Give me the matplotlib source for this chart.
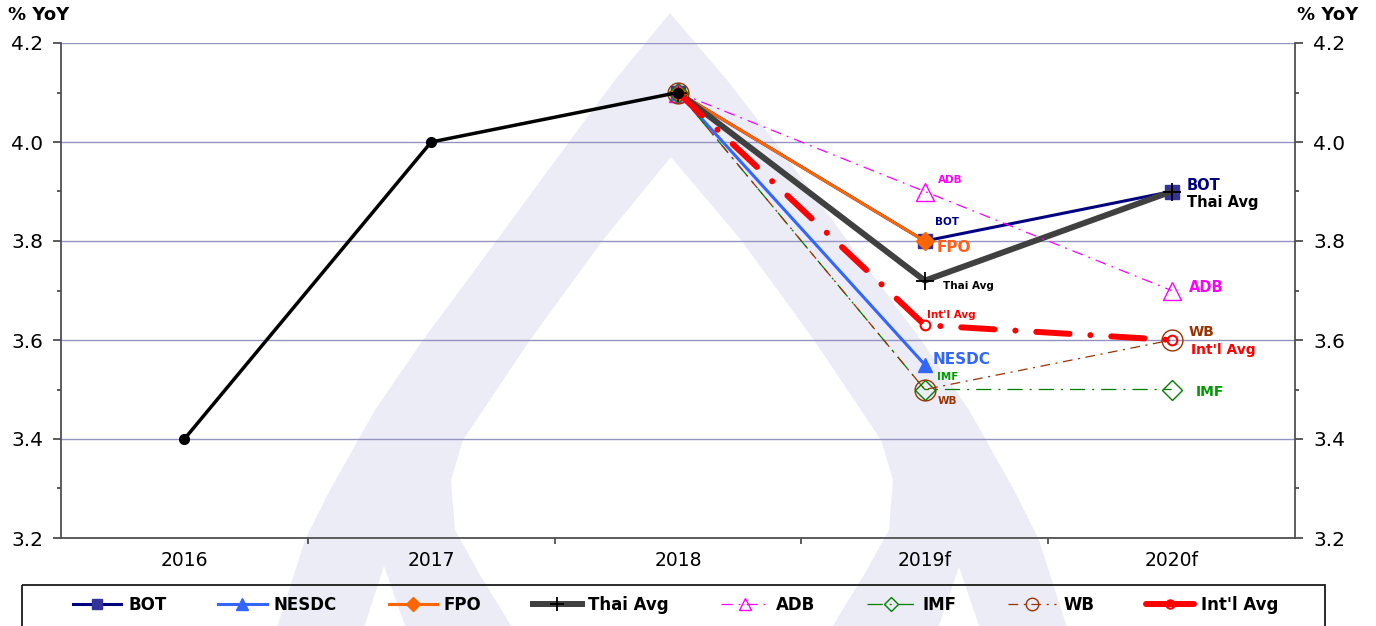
import numpy as np
import matplotlib
matplotlib.use('Agg')
import matplotlib.pyplot as plt
from matplotlib.ticker import MultipleLocator, FormatStrFormatter, FixedLocator
from matplotlib.patches import Polygon, Rectangle
from matplotlib.lines import Line2D

plt.rcParams['font.family'] = ['DejaVu Sans']
plt.rcParams['lines.scale_dashes'] = False

nan = np.nan
years = ['2016', '2017', '2018', '2019f', '2020f']
actual = [3.4, 4.0, 4.1, nan, nan]
bot = [nan, nan, 4.1, 3.8, 3.9]
nesdc = [nan, nan, 4.1, 3.55, nan]
fpo = [nan, nan, 4.1, 3.8, nan]
thai_avg = [nan, nan, 4.1, 3.72, 3.9]
adb = [nan, nan, 4.1, 3.9, 3.7]
imf = [nan, nan, 4.1, 3.5, 3.5]
wb = [nan, nan, 4.1, 3.5, 3.6]
intl_avg = [nan, nan, 4.1, 3.63, 3.6]

series_names = ['BOT', 'NESDC', 'FPO', 'Thai Avg', 'ADB', 'IMF', 'WB', "Int'l Avg"]
series_values = [bot, nesdc, fpo, thai_avg, adb, imf, wb, intl_avg]

W, H = 1376, 626
fig = plt.figure(figsize=(W / 100, H / 100), dpi=100)
fig.patch.set_facecolor('white')

# background watermark + legend frame (pixel coordinates)
bg = fig.add_axes([0, 0, 1, 1], zorder=0)
bg.set_xlim(0, W)
bg.set_ylim(H, 0)
bg.axis('off')
wm = [(273, 640), (305, 540), (330, 490), (375, 410), (423, 340), (497, 240), (563, 150),
      (615, 80), (670, 13), (727, 80),
      (781, 150), (847, 240), (921, 340), (969, 410), (1014, 490), (1039, 540), (1071, 640),
      (984, 640), (959, 567), (934, 640), (824, 640),
      (864, 575), (889, 530), (893, 480), (881, 440), (814, 340), (741, 240), (671, 157),
      (603, 240), (530, 340), (463, 440), (451, 480), (455, 530), (480, 575), (520, 640),
      (410, 640), (384, 566), (360, 640)]
bg.add_patch(Polygon(wm, closed=True, fc='#ececf6', ec='none'))
bg.add_patch(Rectangle((22, 585), 1303, 60, fill=False, ec='#1a1a1a', lw=1.3))

ax = fig.add_axes([61 / W, 1 - 538 / H, (1295 - 61) / W, (538 - 43) / H], zorder=1)
ax.patch.set_alpha(0)

x = np.arange(len(years))

styles = {
    'BOT': dict(color='#000080', lw=2.2, marker='s', ms=9.5, mfc='#333399', mec='#333399'),
    'NESDC': dict(color='#3366FF', lw=2.2, marker='^', ms=10, mfc='#3366FF', mec='#3366FF'),
    'FPO': dict(color='#FF6600', lw=2.2, marker='D', ms=9.5, mfc='#FF6600', mec='#FF6600'),
    'Thai Avg': dict(color='#404040', lw=4.3, marker='+', ms=13, mec='#000000', mew=1.3),
    'ADB': dict(color='#FF00FF', lw=0.9, marker='^', ms=13.5, mfc='none', mec='#FF00FF',
                mew=1.0, dashes=(8, 4.3, 1.4, 4.3)),
    'IMF': dict(color='#008000', lw=0.9, marker='D', ms=10, mfc='none', mec='#008000',
                mew=1.0, dashes=(11, 5, 1.5, 5)),
    'WB': dict(color='#993300', lw=0.9, marker='o', ms=15, mfc='none', mec='#993300',
               mew=1.0, dashes=(7, 4, 1.5, 4)),
    "Int'l Avg": dict(color='#FF0000', lw=4.3, marker='o', ms=7, mfc='none', mec='#FF0000',
                      mew=1.5, dashes=(24, 15, 0.1, 15), dash_capstyle='round'),
}

z = 3
for name, vals in zip(series_names, series_values):
    ax.plot(x, vals, zorder=z, **styles[name])
    z += 0.1

ax.plot(x, actual, color='black', lw=2.5, marker='o', ms=7, mfc='black', mec='black', zorder=5)

# axes formatting
ax.set_xlim(-0.5, len(years) - 0.5)
ax.set_ylim(3.2, 4.2)
ax.yaxis.set_major_locator(MultipleLocator(0.2))
ax.yaxis.set_minor_locator(MultipleLocator(0.1))
ax.yaxis.set_major_formatter(FormatStrFormatter('%.1f'))
ax.set_xticks(x)
ax.set_xticklabels(years)
ax.xaxis.set_minor_locator(FixedLocator(x[:-1] + 0.5))
ax.tick_params(axis='x', which='major', length=0, pad=9, labelsize=13.5)
ax.tick_params(axis='x', which='minor', length=4.5, width=1.2, color='#404040', direction='out')
ax.tick_params(axis='y', which='major', length=6, width=1.2, color='#404040', direction='out',
               left=True, right=True, labelleft=True, labelright=True, labelsize=14.5, pad=7)
ax.tick_params(axis='y', which='minor', length=3, width=1.2, color='#404040', direction='out',
               left=True, right=True)
for s in ['left', 'right', 'bottom']:
    ax.spines[s].set_color('#505050')
    ax.spines[s].set_linewidth(1.3)
ax.spines['top'].set_visible(False)
ax.yaxis.grid(True, which='major', color='#9494c0', lw=1.0)
ax.set_axisbelow(True)

fig.text(8 / W, 1 - 15 / H, '% YoY', ha='left', va='center', fontsize=13, fontweight='bold')
fig.text(1358 / W, 1 - 15 / H, '% YoY', ha='right', va='center', fontsize=13, fontweight='bold')

# point labels
label_2019 = [
    ('ADB', adb, '#FF00FF', 7.5, (13, 11.5)),
    ('BOT', bot, '#000080', 7.5, (10, 19)),
    ('FPO', fpo, '#FF5F1A', 11, (12, -7)),
    ('Thai Avg', thai_avg, '#000000', 7.5, (18, -5)),
    ("Int'l Avg", intl_avg, '#FF0000', 7.5, (2, 10.5)),
    ('NESDC', nesdc, '#3366FF', 11, (8, 5)),
    ('IMF', imf, '#009900', 7.5, (12, 12.5)),
    ('WB', wb, '#993300', 7.5, (13, -11)),
]
label_2020 = [
    ('BOT', bot, '#000080', 10.5, (15, 6.5)),
    ('Thai Avg', thai_avg, '#000000', 10.5, (15, -10.5)),
    ('ADB', adb, '#FF00FF', 10.5, (17, 3)),
    ('WB', wb, '#993300', 10, (17, 8)),
    ("Int'l Avg", intl_avg, '#FF0000', 10, (19, -10)),
    ('IMF', imf, '#009900', 10, (24, -2.5)),
]
for idx, labels in ((3, label_2019), (4, label_2020)):
    for txt, vals, col, fs, off in labels:
        ax.annotate(txt, xy=(x[idx], vals[idx]), xytext=off, textcoords='offset pixels',
                    ha='left', va='center', fontsize=fs, fontweight='bold', color=col,
                    zorder=10)

# legend
leg_over = {
    'BOT': dict(ms=7.5), 'NESDC': dict(ms=8), 'FPO': dict(ms=7), 'Thai Avg': dict(ms=10),
    'ADB': dict(ms=9), 'IMF': dict(ms=7), 'WB': dict(ms=9),
    "Int'l Avg": dict(ms=6, linestyle='-', solid_capstyle='round'),
}
handles = []
for name in series_names:
    st = dict(styles[name])
    if name == "Int'l Avg":
        st.pop('dashes')
        st.pop('dash_capstyle')
    st.update(leg_over[name])
    handles.append(Line2D([], [], **st))
fig.legend(handles, series_names, ncol=8, loc='center left',
           bbox_to_anchor=(73 / W, 1 - 605 / H), frameon=False,
           prop=dict(size=12, weight='bold'), handlelength=2.9, handletextpad=0.4,
           columnspacing=3.12, borderpad=0, borderaxespad=0)

fig.savefig('out.png', dpi=100, facecolor='white')
